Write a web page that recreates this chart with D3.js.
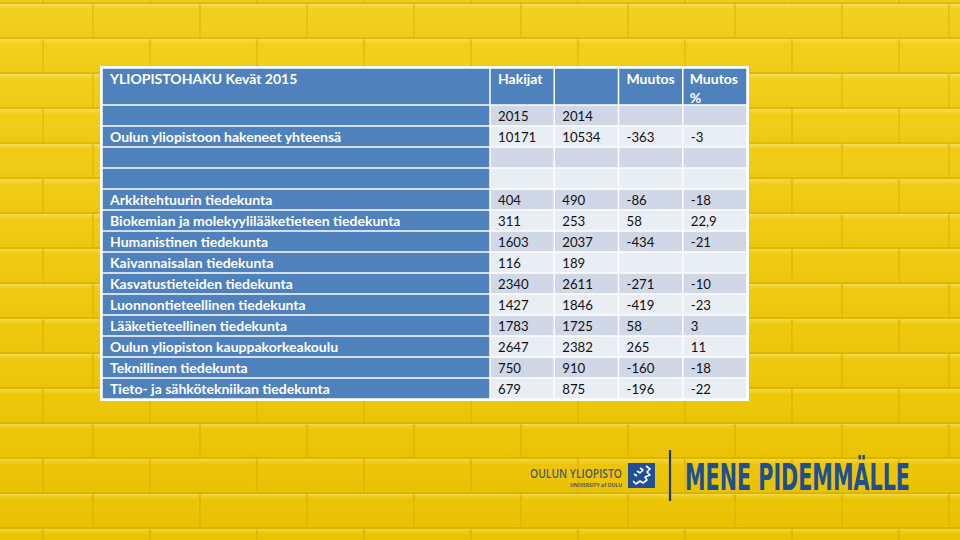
<!DOCTYPE html>
<html>
<head>
<meta charset="utf-8">
<script src="https://cdn.jsdelivr.net/npm/d3@7"></script>
<style>
  html, body { margin: 0; padding: 0; background: #efca12; }
  svg { display: block; }
</style>
</head>
<body>
<svg id="chart" width="960" height="540"></svg>
<script>
// ---- Data ----
const headerCells = ['YLIOPISTOHAKU Kevät 2015', 'Hakijat', '', 'Muutos', 'Muutos %'];
const yearCells = ['2015', '2014', '', ''];
const totalLabel = 'Oulun yliopistoon hakeneet yhteensä';
const totalValues = ['10171', '10534', '-363', '-3'];

const faculties = [
  'Arkkitehtuurin tiedekunta',
  'Biokemian ja molekyylilääketieteen tiedekunta',
  'Humanistinen tiedekunta',
  'Kaivannaisalan tiedekunta',
  'Kasvatustieteiden tiedekunta',
  'Luonnontieteellinen tiedekunta',
  'Lääketieteellinen tiedekunta',
  'Oulun yliopiston kauppakorkeakoulu',
  'Teknillinen tiedekunta',
  'Tieto- ja sähkötekniikan tiedekunta'
];
const applicants2015 = ['404', '311', '1603', '116', '2340', '1427', '1783', '2647', '750', '679'];
const applicants2014 = ['490', '253', '2037', '189', '2611', '1846', '1725', '2382', '910', '875'];
const change      = ['-86', '58', '-434', '', '-271', '-419', '58', '265', '-160', '-196'];
const changePct   = ['-18', '22,9', '-21', '', '-10', '-23', '3', '11', '-18', '-22'];

// body rows: label + 4 value cells
const rows = [
  {label: '', cells: yearCells},
  {label: totalLabel, cells: totalValues},
  {label: '', cells: ['', '', '', '']},
  {label: '', cells: ['', '', '', '']},
  ...faculties.map((f, i) => ({label: f, cells: [applicants2015[i], applicants2014[i], change[i], changePct[i]]}))
];

// ---- Colours / fonts ----
const BLUE = '#4f81bd', DARK = '#d0d8e8', LIGHT = '#e9edf4';
const FONT = 'Lato, "Open Sans", sans-serif';

const svg = d3.select('#chart');

// =============== BRICK WALL BACKGROUND ===============
const defs = svg.append('defs');
const bg = defs.append('linearGradient').attr('id', 'wall').attr('x1', 0).attr('y1', 0).attr('x2', 0).attr('y2', 1);
bg.append('stop').attr('offset', 0).attr('stop-color', '#f3d01c');
bg.append('stop').attr('offset', 1).attr('stop-color', '#ebc300');
const br = defs.append('linearGradient').attr('id', 'brick').attr('x1', 0).attr('y1', 0).attr('x2', 0).attr('y2', 1);
br.append('stop').attr('offset', 0).attr('stop-color', '#fff2a0').attr('stop-opacity', 0.3);
br.append('stop').attr('offset', 0.15).attr('stop-color', '#fff') .attr('stop-opacity', 0);
br.append('stop').attr('offset', 1).attr('stop-color', '#b08a00').attr('stop-opacity', 0.06);

svg.append('rect').attr('width', 960).attr('height', 540).attr('fill', 'url(#wall)');

const COURSE = 35, BRICK_W = 107, Y0 = 3;
const wall = svg.append('g');
d3.range(-1, 16).forEach(k => {
  const y = Y0 + k * COURSE;
  const off = (k % 2 === 0) ? 93 - BRICK_W : 43 - BRICK_W;
  d3.range(off, 960 + BRICK_W, BRICK_W).forEach(x => {
    wall.append('rect').attr('x', x + 1).attr('y', y + 1.5)
      .attr('width', BRICK_W - 2.5).attr('height', COURSE - 3).attr('rx', 2)
      .attr('fill', 'url(#brick)');
    wall.append('line').attr('x1', x).attr('x2', x).attr('y1', y).attr('y2', y + COURSE)
      .attr('stroke', '#c9a100').attr('stroke-width', 1.1).attr('opacity', 0.55);
  });
  wall.append('line').attr('x1', 0).attr('x2', 960).attr('y1', y).attr('y2', y)
    .attr('stroke', '#c9a100').attr('stroke-width', 1.3).attr('opacity', 0.6);
  wall.append('line').attr('x1', 0).attr('x2', 960).attr('y1', y + 1.6).attr('y2', y + 1.6)
    .attr('stroke', '#fff0a0').attr('stroke-width', 1).attr('opacity', 0.35);
});

// =============== TABLE ===============
const T = {x0: 102, x1: 747, y0: 68, head: 105, y1: 399, labelW: 388};

const xCol = d3.scaleBand().domain(d3.range(4)).range([T.x0 + T.labelW, T.x1]);
const yRow = d3.scaleBand().domain(d3.range(rows.length)).range([T.head, T.y1]);

const tbl = svg.append('g');
tbl.append('rect').attr('x', T.x0 - 2).attr('y', T.y0 - 2)
  .attr('width', T.x1 - T.x0 + 4).attr('height', T.y1 - T.y0 + 4).attr('fill', '#fff');

// header row
const headX = [T.x0, ...d3.range(4).map(i => xCol(i))];
const headW = [T.labelW, ...d3.range(4).map(() => xCol.bandwidth())];
headerCells.forEach((h, i) => {
  tbl.append('rect').attr('x', headX[i] + 0.75).attr('y', T.y0 + 0.75)
    .attr('width', headW[i] - 1.5).attr('height', T.head - T.y0 - 1.5).attr('fill', BLUE);
  const words = (i === 4) ? ['Muutos', '%'] : [h];
  const tx = headX[i] + (i === 4 ? 7 : 8);
  const t = tbl.append('text').attr('y', T.y0 + 15.5)
    .attr('fill', '#fff').attr('font-family', FONT).attr('font-weight', 700).attr('font-size', 14);
  words.forEach((w, j) => t.append('tspan').attr('x', tx).attr('dy', j ? 19 : 0).text(w));
});

// body rows
rows.forEach((r, ri) => {
  const y = yRow(ri), h = yRow.bandwidth();
  const fill = ri % 2 === 0 ? DARK : LIGHT;
  tbl.append('rect').attr('x', T.x0 + 0.75).attr('y', y + 0.75)
    .attr('width', T.labelW - 1.5).attr('height', h - 1.5).attr('fill', BLUE);
  if (r.label) {
    tbl.append('text').attr('x', T.x0 + 8).attr('y', y + h / 2 + 5)
      .attr('fill', '#fff').attr('font-family', FONT).attr('font-weight', 700).attr('font-size', 14)
      .text(r.label);
  }
  r.cells.forEach((c, ci) => {
    tbl.append('rect').attr('x', xCol(ci) + 0.75).attr('y', y + 0.75)
      .attr('width', xCol.bandwidth() - 1.5).attr('height', h - 1.5).attr('fill', fill);
    if (c) {
      tbl.append('text').attr('x', xCol(ci) + 8).attr('y', y + h / 2 + 5)
        .attr('fill', '#111').attr('font-family', FONT).attr('font-size', 13.2)
        .text(c);
    }
  });
});

// =============== LOGOS ===============
const logo = svg.append('g');
logo.append('text').attr('x', 622).attr('y', 478).attr('text-anchor', 'end')
  .attr('font-family', '"Open Sans", sans-serif').attr('font-size', 12).attr('font-weight', 600)
  .attr('fill', '#4c5a63').attr('textLength', 92).attr('lengthAdjust', 'spacingAndGlyphs')
  .text('OULUN YLIOPISTO');
logo.append('text').attr('x', 622).attr('y', 487).attr('text-anchor', 'end')
  .attr('font-family', '"Open Sans", sans-serif').attr('font-size', 5.5).attr('font-weight', 700)
  .attr('fill', '#4c5a63').attr('textLength', 52).attr('lengthAdjust', 'spacingAndGlyphs')
  .text('UNIVERSITY of OULU');
logo.append('rect').attr('x', 628).attr('y', 463).attr('width', 27).attr('height', 25).attr('fill', '#1f4f9a');
logo.append('path')
  .attr('d', 'M646,466 l4,3 l-3,3 l3,3 l-5,2 l2,3 l-4,3 l-3,-2 l-4,3 l-3,-3 M640,468 l3,2 l-3,3 l-3,-2 M634,474 l3,2')
  .attr('fill', 'none').attr('stroke', '#fff').attr('stroke-width', 1.6).attr('stroke-linejoin', 'round');
logo.append('line').attr('x1', 670).attr('x2', 670).attr('y1', 450).attr('y2', 501)
  .attr('stroke', '#1f3660').attr('stroke-width', 2.2);

// slogan: condensed by scaling the whole text to the logo width
const slogan = logo.append('text').attr('x', 0).attr('y', 0)
  .attr('font-family', '"DejaVu Sans", sans-serif').attr('font-weight', 700).attr('font-size', 38)
  .attr('fill', '#1d4f91')
  .text('MENE PIDEMMÄLLE');
const sw = slogan.node().getComputedTextLength();
slogan.attr('transform', `translate(685,490) scale(${225 / sw},1)`);
</script>
</body>
</html>
